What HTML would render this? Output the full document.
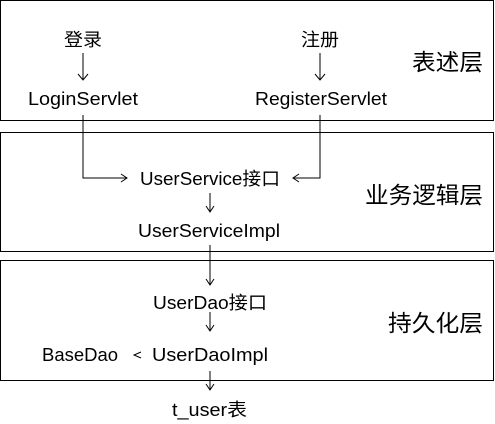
<!DOCTYPE html>
<html><head><meta charset="utf-8"><style>
html,body{margin:0;padding:0;background:#fff;}
svg{display:block;}
text{font-family:"Liberation Sans","Noto Sans CJK SC",sans-serif;fill:#000;}
</style></head><body>
<svg width="495" height="424" viewBox="0 0 495 424" xmlns="http://www.w3.org/2000/svg">
<g fill="none" stroke="#000" stroke-width="1">
<rect x="0.5" y="0.5" width="493" height="120"/>
<rect x="0.5" y="132.5" width="493" height="119"/>
<rect x="0.5" y="260.5" width="493" height="120"/>
<path d="M83 53V80M78 74L83 80L88 74"/>
<path d="M320 53V80M315 74L320 80L325 74"/>
<path d="M83 115V178H127M121 174L127 178L121 182"/>
<path d="M320 115V178H293M299 174L293 178L299 182"/>
<path d="M210 193V212M206 206L210 212L214 206"/>
<path d="M210 245V285M206 279L210 285L214 279"/>
<path d="M210 312V331M206 325L210 331L214 325"/>
<path d="M210 371V390M206 384L210 390L214 384"/>
<path d="M141 352L134 355L141 358"/>
</g>
<g font-size="18">
<text x="64" y="46" textLength="38" lengthAdjust="spacingAndGlyphs">登录</text>
<text x="301" y="46" textLength="38" lengthAdjust="spacingAndGlyphs">注册</text>
<text x="28" y="105" textLength="110" lengthAdjust="spacingAndGlyphs">LoginServlet</text>
<text x="255" y="105" textLength="132" lengthAdjust="spacingAndGlyphs">RegisterServlet</text>
<text x="140" y="185" textLength="140" lengthAdjust="spacingAndGlyphs">UserService接口</text>
<text x="138" y="237" textLength="142" lengthAdjust="spacingAndGlyphs">UserServiceImpl</text>
<text x="153" y="309" textLength="114" lengthAdjust="spacingAndGlyphs">UserDao接口</text>
<text x="42" y="361" textLength="76" lengthAdjust="spacingAndGlyphs">BaseDao</text>
<text x="152" y="361" textLength="116" lengthAdjust="spacingAndGlyphs">UserDaoImpl</text>
<text x="172" y="416" textLength="75" lengthAdjust="spacingAndGlyphs">t_user表</text>
</g>
<g font-size="23">
<text x="412" y="70" textLength="71" lengthAdjust="spacingAndGlyphs">表述层</text>
<text x="365" y="203" textLength="118" lengthAdjust="spacingAndGlyphs">业务逻辑层</text>
<text x="388" y="331" textLength="95" lengthAdjust="spacingAndGlyphs">持久化层</text>
</g>
</svg>
</body></html>
